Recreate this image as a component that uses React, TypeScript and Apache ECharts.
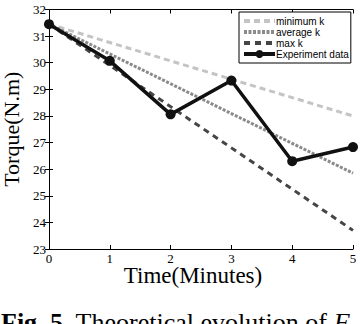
import React, { useEffect, useRef } from "react";
import * as echarts from "echarts";

const times = [0, 1, 2, 3, 4, 5];
const minimumK = [31.45, 30.76, 30.07, 29.38, 28.69, 28.0];
const averageK = [31.45, 30.33, 29.21, 28.09, 26.97, 25.85];
const maxK = [31.45, 29.9, 28.35, 26.8, 25.25, 23.7];
const experiment = [31.45, 30.07, 28.06, 29.33, 26.3, 26.83];
const legendNames = ["minimum k", "average k", "max k", "Experiment data"];

const serif = "'Liberation Serif', 'Times New Roman', serif";
const sans = "'Liberation Sans', Arial, sans-serif";

function pairs(ys: number[]) {
  return times.map((t, i) => [t, ys[i]]);
}

export default function App() {
  const ref = useRef<HTMLDivElement>(null);
  useEffect(() => {
    if (!ref.current) return;
    const chart = echarts.init(ref.current, undefined, { renderer: "svg" });
    const lineAxis = { show: true, lineStyle: { color: "#000", width: 1 } };
    const tick = { show: true, inside: true, length: 4, lineStyle: { color: "#000" } };
    const labelStyle = { color: "#000", fontFamily: serif, fontSize: 13 };
    chart.setOption({
      animation: false,
      backgroundColor: "#fff",
      grid: { left: 49, right: 7, top: 9.5, bottom: 75, containLabel: false, outerBoundsMode: "none" },
      xAxis: [
        {
          type: "value", min: 0, max: 5, interval: 1,
          axisLine: lineAxis, axisTick: tick, splitLine: { show: false },
          axisLabel: { ...labelStyle, margin: 3 },
          name: "Time(Minutes)", nameLocation: "middle", nameGap: 15, nameMoveOverlap: false,
          nameTextStyle: { color: "#000", fontFamily: serif, fontSize: 23, padding: [0, 16, 0, 0] },
        },
        {
          type: "value", min: 0, max: 5, interval: 1, position: "top",
          axisLine: lineAxis, axisTick: tick, axisLabel: { show: false }, splitLine: { show: false },
        },
      ],
      yAxis: [
        {
          type: "value", min: 23, max: 32, interval: 1,
          axisLine: lineAxis, axisTick: tick, splitLine: { show: false },
          axisLabel: { ...labelStyle, margin: 3 },
          name: "Torque(N.m)", nameLocation: "middle", nameGap: 23,
          nameTextStyle: { color: "#000", fontFamily: serif, fontSize: 22 },
        },
        {
          type: "value", min: 23, max: 32, interval: 1, position: "right",
          axisLine: lineAxis, axisTick: tick, axisLabel: { show: false }, splitLine: { show: false },
        },
      ],
      legend: {
        orient: "vertical", left: 239, top: 12,
        padding: [4, 2, 4, 3], itemGap: 1, itemWidth: 31, itemHeight: 10,
        borderColor: "#000", borderWidth: 1, backgroundColor: "#fff", borderRadius: 0,
        textStyle: { color: "#000", fontFamily: sans, fontSize: 10, padding: [0, 0, 0, -4] },
        data: legendNames.map((name, i) =>
          i < 3
            ? { name, itemStyle: { opacity: 0 }, lineStyle: { width: 4 } }
            : { name, lineStyle: { width: 4 } }
        ),
      },
      graphic: [
        {
          type: "text", left: 1, top: 309,
          style: {
            text: "{b|Fig. 5.} Theoretical evolution of {i|F}",
            fontFamily: serif, fontSize: 26, fill: "#000",
            rich: {
              b: { fontFamily: serif, fontSize: 26, fontWeight: "bold" },
              i: { fontFamily: serif, fontSize: 26, fontStyle: "italic" },
            },
          },
        },
      ],
      series: [
        {
          name: legendNames[0], type: "line", data: pairs(minimumK), symbol: "none",
          lineStyle: { color: "#c4c4c4", width: 3, type: [6, 4] }, itemStyle: { color: "#c4c4c4" },
        },
        {
          name: legendNames[1], type: "line", data: pairs(averageK), symbol: "none",
          lineStyle: { color: "#8a8a8a", width: 3, type: [3, 1.5] }, itemStyle: { color: "#8a8a8a" },
        },
        {
          name: legendNames[2], type: "line", data: pairs(maxK), symbol: "none",
          lineStyle: { color: "#454545", width: 3, type: [6, 5] }, itemStyle: { color: "#454545" },
        },
        {
          name: legendNames[3], type: "line", data: pairs(experiment), symbol: "circle", symbolSize: 10,
          lineStyle: { color: "#111", width: 3.5 }, itemStyle: { color: "#111" },
        },
      ],
    });
    return () => chart.dispose();
  }, []);
  return (
    <div
      ref={ref}
      style={{ position: "fixed", left: 0, top: 0, width: 360, height: 324, background: "#fff" }}
    />
  );
}
